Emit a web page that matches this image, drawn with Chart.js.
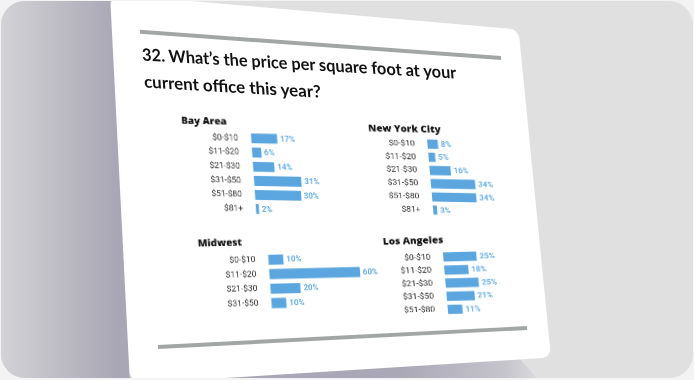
<!DOCTYPE html>
<html>
<head>
<meta charset="utf-8">
<script src="https://cdn.jsdelivr.net/npm/chart.js@4.4.0/dist/chart.umd.min.js"></script>
<style>
  html, body { margin: 0; padding: 0; width: 694px; height: 380px; overflow: hidden; background: #f3f3f3; }
  #frame { position: absolute; left: 1px; top: 1px; width: 692px; height: 377px; border-radius: 24px; background: #e0e0e0; overflow: hidden; }
  #shade {
    position: absolute; left: 0; top: 0; width: 692px; height: 377px;
    background: linear-gradient(to right, #d3d3d6 0px, #bdbcc4 60px, #a9a7b5 115px, #aaa8b6 400px, #c6c5cc 505px, #dddddf 540px);
    clip-path: polygon(0 0, 115px 0, 128px 356px, 517px 356px, 536px 377px, 0 377px);
  }
  #card { position: absolute; left: 0; top: 0; width: 420px; height: 360px; background: #fff; border-radius: 10px; transform-origin: 0 0; }
  #content { position: absolute; left: 0; top: 0; width: 694px; height: 380px; }
  #content > * { position: absolute; left: 0; top: 0; transform-origin: 0 0; }
  .rule { height: 4px; background: #a2a7a5; }
  #title { font: 700 17px/26.6px Lato, 'Open Sans', sans-serif; color: #111; white-space: nowrap; }
  #title span { display: inline-block; transform-origin: 0 50%; }
</style>
</head>
<body>
<div id="frame">
  <div id="shade"></div>
  <div id="card"></div>
</div>
<div id="content">
  <div class="rule" id="ruleTop"></div>
  <div id="title"><span id="line1">32. What’s the price per square foot at your</span><br><span id="line2">current office this year?</span></div>
  <div class="rule" id="ruleBottom"></div>
</div>
<script>
// Data
const priceBands = ['$0-$10', '$11-$20', '$21-$30', '$31-$50', '$51-$80', '$81+'];
const bayAreaValues = [17, 6, 14, 31, 30, 2];
const nycValues = [8, 5, 16, 34, 34, 3];
const midwestBands = ['$0-$10', '$11-$20', '$21-$30', '$31-$50'];
const midwestValues = [10, 60, 20, 10];
const laBands = ['$0-$10', '$11-$20', '$21-$30', '$31-$50', '$51-$80'];
const laValues = [25, 18, 25, 21, 11];

const BAR_COLOR = '#5ba6de';
const LABEL_COLOR = '#64ade2';

// Flat page -> tilted photo (bilinear warp fitted to the two grey rules)
function toScreen(fx, fy) {
  const s = (fx - 29) / 370, t = (fy - 32.5) / 294.5;
  return [140 + 361 * s + 18 * t + 8 * s * t, 31.7 + 26.3 * s + 315.3 * t - 45.3 * s * t];
}

// Place an element given its flat box, using the local tangent of the warp
function place(el, L, T, W, H) {
  const cx = L + W / 2, cy = T + H / 2;
  const px = toScreen(cx + 1, cy), mx = toScreen(cx - 1, cy);
  const py = toScreen(cx, cy + 1), my = toScreen(cx, cy - 1);
  const c0 = toScreen(cx, cy);
  const a = (px[0] - mx[0]) / 2, b = (px[1] - mx[1]) / 2;
  const c = (py[0] - my[0]) / 2, d = (py[1] - my[1]) / 2;
  const e = c0[0] - a * W / 2 - c * H / 2;
  const f = c0[1] - b * W / 2 - d * H / 2;
  el.style.width = W + 'px';
  el.style.height = H + 'px';
  el.style.transform = `matrix(${a},${b},${c},${d},${e},${f})`;
}

// Percent labels drawn at the end of each bar
const valueLabels = {
  id: 'valueLabels',
  afterDatasetsDraw(chart) {
    const ctx = chart.ctx;
    const meta = chart.getDatasetMeta(0);
    const values = chart.data.datasets[0].data;
    ctx.save();
    ctx.font = '700 8px Roboto, sans-serif';
    ctx.fillStyle = LABEL_COLOR;
    ctx.textBaseline = 'middle';
    meta.data.forEach((bar, i) => {
      ctx.fillText(values[i] + '%', bar.x + 3, bar.y + 0.5);
    });
    ctx.restore();
  }
};

function makePanel(title, labels, values, p) {
  const n = labels.length;
  const axisW = p.barStart - p.left;
  const top = p.baseline - 9.3;
  const chartTop = p.row0 - p.spacing / 2;
  const padTitle = chartTop - top - 12;
  const hExact = 12 + padTitle + n * p.spacing;
  const wExact = axisW + p.max * p.scale;
  const h = Math.ceil(hExact), w = Math.ceil(wExact);

  const canvas = document.createElement('canvas');
  canvas.width = w;
  canvas.height = h;
  document.getElementById('content').appendChild(canvas);
  place(canvas, p.left, top, w, h);

  return new Chart(canvas.getContext('2d'), {
    type: 'bar',
    data: {
      labels,
      datasets: [{
        data: values,
        backgroundColor: BAR_COLOR,
        barPercentage: 0.7,
        categoryPercentage: 1
      }]
    },
    options: {
      indexAxis: 'y',
      responsive: false,
      animation: false,
      devicePixelRatio: 2,
      layout: { padding: { left: 0, top: 0, right: w - wExact, bottom: h - hExact } },
      plugins: {
        legend: { display: false },
        tooltip: { enabled: false },
        title: {
          display: true,
          text: title,
          align: 'start',
          color: '#111',
          font: { family: "'Open Sans', sans-serif", weight: '800', size: 10, lineHeight: 1.2 },
          padding: { top: 0, bottom: padTitle }
        }
      },
      scales: {
        x: { display: false, min: 0, max: p.max },
        y: {
          grid: { display: false },
          border: { display: false },
          ticks: {
            color: '#2b2b2b',
            font: { family: 'Roboto, sans-serif', size: 8.5 },
            padding: 5,
            autoSkip: false
          },
          afterFit(scale) {
            scale.width = axisW;
            scale.paddingTop = 0;
            scale.paddingBottom = 0;
          }
        }
      }
    },
    plugins: [valueLabels]
  });
}

makePanel('Bay Area', priceBands, bayAreaValues,
  { left: 66.3, baseline: 116.5, barStart: 136, row0: 129, spacing: 13.8, scale: 1.56, max: 50 });
makePanel('New York City', priceBands, nycValues,
  { left: 256.6, baseline: 117.1, barStart: 315.6, row0: 129.1, spacing: 13.9, scale: 1.32, max: 50 });
makePanel('Midwest', midwestBands, midwestValues,
  { left: 75.4, baseline: 233.1, barStart: 145.2, row0: 247.3, spacing: 14.3, scale: 1.52, max: 75 });
makePanel('Los Angeles', laBands, laValues,
  { left: 262.2, baseline: 233.6, barStart: 321.6, row0: 248.1, spacing: 13.75, scale: 1.34, max: 40 });

// Rules and headline
place(document.getElementById('ruleTop'), 29, 30.5, 370, 4);
place(document.getElementById('ruleBottom'), 29, 325, 370, 4);
place(document.getElementById('title'), 30, 39.8, 330, 54);
const l1 = document.getElementById('line1');
const l2 = document.getElementById('line2');
const fit = (el, target) => {
  const k = Math.max(0.75, Math.min(1.15, target / el.offsetWidth));
  el.style.transform = 'scaleX(' + k + ')';
};
fit(l1, 321.5);
fit(l2, 181);

// White page behind it all
function solve(A, b) {
  const n = b.length;
  const M = A.map((row, i) => row.concat([b[i]]));
  for (let c = 0; c < n; c++) {
    let p = c;
    for (let r = c + 1; r < n; r++) if (Math.abs(M[r][c]) > Math.abs(M[p][c])) p = r;
    [M[c], M[p]] = [M[p], M[c]];
    for (let r = 0; r < n; r++) {
      if (r === c) continue;
      const f = M[r][c] / M[c][c];
      for (let k2 = c; k2 <= n; k2++) M[r][k2] -= f * M[c][k2];
    }
  }
  return M.map((row, i) => row[n] / row[i]);
}

function tilt(el, w, h, pts) {
  const src = [[0, 0], [w, 0], [w, h], [0, h]];
  const A = [], b = [];
  for (let i = 0; i < 4; i++) {
    const [x, y] = src[i], [X, Y] = pts[i];
    A.push([x, y, 1, 0, 0, 0, -x * X, -y * X]); b.push(X);
    A.push([0, 0, 0, x, y, 1, -x * Y, -y * Y]); b.push(Y);
  }
  const [a, bb, c, d, e, f, g, hh] = solve(A, b);
  el.style.transform = `matrix3d(${a},${d},0,${g},${bb},${e},0,${hh},0,0,1,0,${c},${f},0,1)`;
}

// corners relative to #frame (offset 1px)
tilt(document.getElementById('card'), 420, 360, [[109, -7], [517.5, 28.5], [550, 356.5], [129, 383]]);
</script>
</body>
</html>
